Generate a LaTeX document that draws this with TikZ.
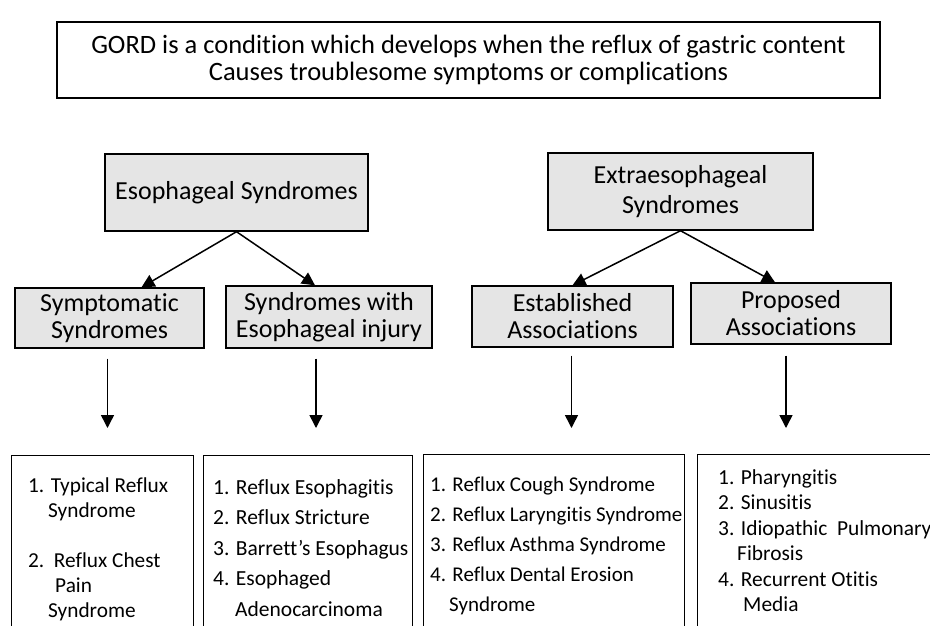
\documentclass[tikz,border=0pt]{standalone}
\usepackage{fontspec}
\setmainfont{Carlito}[Ligatures={TeX,CommonOff}]
\usetikzlibrary{arrows.meta}

\tikzstyle{headbox} = [draw=black, fill=gray!20, line width=1.4pt,
    rectangle, align=center, inner sep=0pt, font=\fontsize{26}{27}\selectfont]
\tikzstyle{listbox} = [draw=black, fill=white, line width=1.4pt,
    rectangle, anchor=north west, inner sep=0pt, minimum height=200pt]
\tikzstyle{listtext} = [anchor=base west, inner sep=0pt]
\tikzstyle{link} = [line width=1.5pt, -{Triangle[length=13pt,width=13pt]}]

\begin{document}
\begin{tikzpicture}[x=1pt,y=-1pt]
\useasboundingbox (0,0) rectangle (930,625);
\clip (0,0) rectangle (930,625);
%------------ Definition ---------------------
\node[draw=black, line width=1.6pt, minimum width=823pt, minimum height=76pt,
    align=center, font=\fontsize{26.5}{27.5}\selectfont] (gord) at (468.5,60)
{GORD is a condition which develops when the reflux of gastric content\\
Causes troublesome symptoms or complications};
%------------ Main groups ---------------------
\node[headbox, minimum width=263pt, minimum height=77pt] (eso) at (236.5,192.5)
{Esophageal Syndromes};
\node[headbox, minimum width=265pt, minimum height=77pt,
    font=\fontsize{26}{30}\selectfont] (extra) at (680.5,191.5)
{Extraesophageal\\Syndromes};
%------------ Sub groups ---------------------
\node[headbox, minimum width=189pt, minimum height=60pt] (symp) at (109.5,318)
{Symptomatic\\Syndromes};
\node[headbox, minimum width=206pt, minimum height=62pt] (injury) at (329,317)
{Syndromes with\\Esophageal injury};
\node[headbox, minimum width=201pt, minimum height=61pt] (estab) at (572.5,316.5)
{Established\\Associations};
\node[headbox, minimum width=200pt, minimum height=61pt] (prop) at (791,313.5)
{Proposed\\Associations};
\draw[link] (eso.south) -- ([xshift=32pt]symp.north);
\draw[link] (eso.south) -- ([xshift=-14pt]injury.north);
\draw[link] (extra.south) -- (estab.north);
\draw[link] (extra.south) -- ([xshift=-16pt]prop.north);
%------------ Lists ---------------------
\node[listbox, minimum width=182pt] (list1) at (11,455) {};
\node[listbox, minimum width=209pt] (list2) at (203,455) {};
\node[listbox, minimum width=261pt] (list3) at (423,454) {};
\node[listbox, minimum width=260pt] (list4) at (697,454) {};
\draw[link, shorten <=10pt, shorten >=27pt] ([xshift=-2pt]symp.south)
    -- ([xshift=-2pt]symp.south |- list1.north);
\draw[link, shorten <=10pt, shorten >=27pt] ([xshift=-13pt]injury.south)
    -- ([xshift=-13pt]injury.south |- list2.north);
\draw[link, shorten <=8pt, shorten >=26pt] ([xshift=-1pt]estab.south)
    -- ([xshift=-1pt]estab.south |- list3.north);
\draw[link, shorten <=11pt, shorten >=26pt] ([xshift=-5pt]prop.south)
    -- ([xshift=-5pt]prop.south |- list4.north);
\node[listtext, font=\fontsize{21.3}{25}\selectfont] (items1)
    at ([xshift=17pt,yshift=-37pt]list1.north west) {%
    \begin{minipage}[t]{170pt}
    1. Typical Reflux\\\hspace*{20pt}Syndrome\\[25pt]
    2.\ \ Reflux Chest\\\hspace*{27pt}Pain\\\hspace*{20pt}Syndrome
    \end{minipage}};
\node[listtext, font=\fontsize{21.5}{30.5}\selectfont] (items2)
    at ([xshift=10pt,yshift=-39pt]list2.north west) {%
    \begin{minipage}[t]{200pt}
    1. Reflux Esophagitis\\2. Reflux Stricture\\3. Barrett's Esophagus\\
    4. Esophaged\\\hspace*{22pt}Adenocarcinoma
    \end{minipage}};
\node[listtext, font=\fontsize{21}{30}\selectfont] (items3)
    at ([xshift=7pt,yshift=-37pt]list3.north west) {%
    \begin{minipage}[t]{255pt}
    1. Reflux Cough Syndrome\\2. Reflux Laryngitis Syndrome\\3. Reflux Asthma Syndrome\\
    4. Reflux Dental Erosion\\\hspace*{19pt}Syndrome
    \end{minipage}};
\node[listtext, font=\fontsize{21.4}{25.5}\selectfont] (items4)
    at ([xshift=21pt,yshift=-30pt]list4.north west) {%
    \begin{minipage}[t]{230pt}
    1. Pharyngitis\\2. Sinusitis\\3. Idiopathic\ \ Pulmonary\\\hspace*{19pt}Fibrosis\\
    4. Recurrent Otitis\\\hspace*{25pt}Media
    \end{minipage}};
\end{tikzpicture}
\end{document}
